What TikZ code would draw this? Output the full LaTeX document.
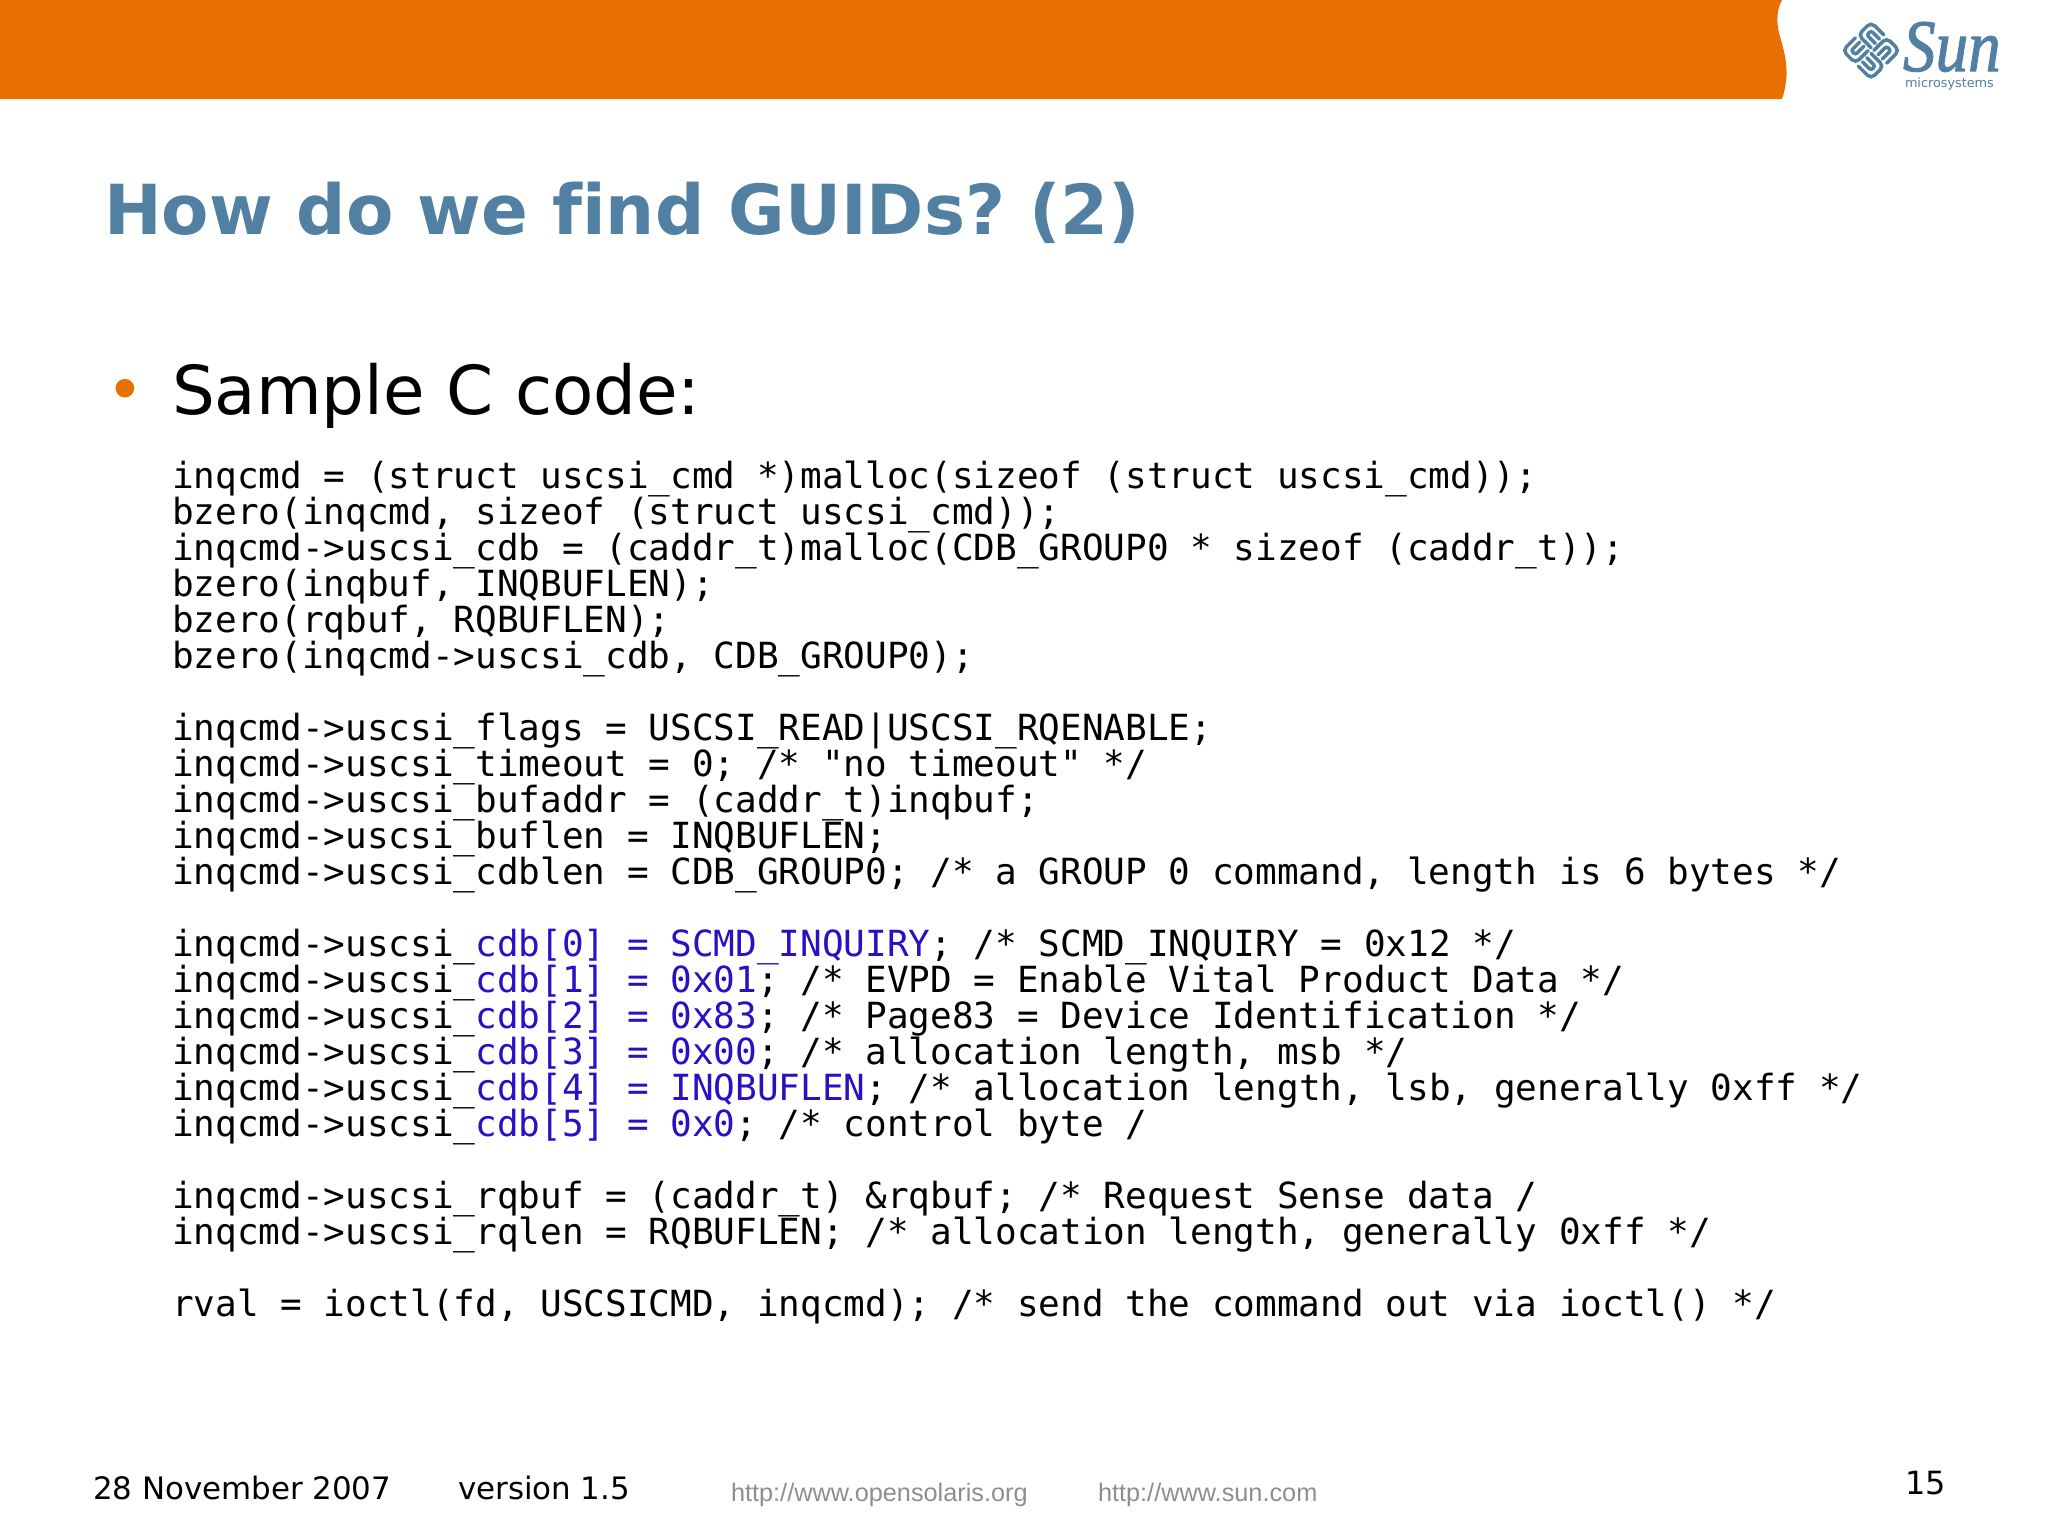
\documentclass[tikz,border=0pt]{standalone}
\usepackage{fontspec}
\setmainfont[Ligatures=NoCommon]{DejaVu Sans}
\setmonofont{DejaVu Sans Mono}
\newfontfamily\urlfont{Liberation Sans}
\newfontfamily\sunfont[ItalicFeatures={FakeBold=1.5}]{Liberation Serif}
\definecolor{sunorange}{HTML}{E86F00}
\definecolor{sunblue}{HTML}{5280A3}
\definecolor{cdbblue}{HTML}{2A0FC4}
\definecolor{urlgray}{HTML}{8E8E8E}
\newcommand{\hl}[1]{\textcolor{cdbblue}{#1}}
\tikzset{
  txt/.style={anchor=base west,inner sep=0pt,outer sep=0pt},
  code/.style={txt,font=\ttfamily\fontsize{36}{36}\selectfont},
  titletext/.style={txt,text=sunblue,font=\bfseries\fontsize{69}{69}\selectfont},
  foot/.style={txt,font=\fontsize{30.9}{31}\selectfont},
  urltext/.style={txt,text=urlgray,font=\urlfont\fontsize{25.3}{26}\selectfont},
  logostroke/.style={draw=sunblue,line width=3.5pt,line cap=round}
}
\begin{document}
\begin{tikzpicture}[x=1pt,y=-1pt]
\useasboundingbox (0,0) rectangle (2048,1535);
\fill[white] (0,0) rectangle (2048,1535);
% header band
\fill[sunorange] (0,0) -- (1782,0) .. controls (1775,12) and (1777,28) .. (1781,40)
  .. controls (1786,58) and (1790,75) .. (1782,99) -- (0,99) -- cycle;
% logo
\begin{scope}[shift={(1871,50.5)},rotate=45]
\foreach \a in {0,90,180,270}{
  \begin{scope}[rotate=\a]
  \draw[logostroke,rounded corners=5pt] (2,20) -- (20,20) -- (20,2) -- (2,2);
  \draw[logostroke,rounded corners=2.5pt] (2,14) -- (14,14) -- (14,8) -- (2,8);
  \end{scope}
}
\end{scope}
\node[txt,text=sunblue,font=\sunfont\itshape\fontsize{74}{74}\selectfont,xscale=.88] (sun) at (1903,71) {\raisebox{0pt}[\height][0pt]{Sun}};
\node[txt,text=sunblue,font=\fontsize{12.8}{13}\selectfont] (micro) at (1905,87.5) {microsystems};
% title
\node[titletext] (title) at (104,234) {How do we find GUIDs?\kern-8pt{} (2)};
% bullet
\node[txt,text=sunorange,font=\fontsize{64}{64}\selectfont] (dot) at (106,412.5) {•};
\node[txt,font=\fontsize{67.5}{68}\selectfont] (sample) at (172,414) {Sample C code:};
% code
\node[code] (c1) at (172,488) {inqcmd = (struct uscsi\_cmd *)malloc(sizeof (struct uscsi\_cmd));};
\node[code] (c2) at (172,524) {bzero(inqcmd, sizeof (struct uscsi\_cmd));};
\node[code] (c3) at (172,560) {inqcmd->uscsi\_cdb = (caddr\_t)malloc(CDB\_GROUP0 * sizeof (caddr\_t));};
\node[code] (c4) at (172,596) {bzero(inqbuf, INQBUFLEN);};
\node[code] (c5) at (172,632) {bzero(rqbuf, RQBUFLEN);};
\node[code] (c6) at (172,668) {bzero(inqcmd->uscsi\_cdb, CDB\_GROUP0);};
\node[code] (c7) at (172,740) {inqcmd->uscsi\_flags = USCSI\_READ|USCSI\_RQENABLE;};
\node[code] (c8) at (172,776) {inqcmd->uscsi\_timeout = 0; /* "no timeout" */};
\node[code] (c9) at (172,812) {inqcmd->uscsi\_bufaddr = (caddr\_t)inqbuf;};
\node[code] (c10) at (172,848) {inqcmd->uscsi\_buflen = INQBUFLEN;};
\node[code] (c11) at (172,884) {inqcmd->uscsi\_cdblen = CDB\_GROUP0; /* a GROUP 0 command, length is 6 bytes */};
\node[code] (c12) at (172,956) {inqcmd->uscsi\_\hl{cdb[0] = SCMD\_INQUIRY}; /* SCMD\_INQUIRY = 0x12 */};
\node[code] (c13) at (172,992) {inqcmd->uscsi\_\hl{cdb[1] = 0x01}; /* EVPD = Enable Vital Product Data */};
\node[code] (c14) at (172,1028) {inqcmd->uscsi\_\hl{cdb[2] = 0x83}; /* Page83 = Device Identification */};
\node[code] (c15) at (172,1064) {inqcmd->uscsi\_\hl{cdb[3] = 0x00}; /* allocation length, msb */};
\node[code] (c16) at (172,1100) {inqcmd->uscsi\_\hl{cdb[4] = INQBUFLEN}; /* allocation length, lsb, generally 0xff */};
\node[code] (c17) at (172,1136) {inqcmd->uscsi\_\hl{cdb[5] = 0x0}; /* control byte /};
\node[code] (c18) at (172,1208) {inqcmd->uscsi\_rqbuf = (caddr\_t) \&rqbuf; /* Request Sense data /};
\node[code] (c19) at (172,1244) {inqcmd->uscsi\_rqlen = RQBUFLEN; /* allocation length, generally 0xff */};
\node[code] (c20) at (172,1316) {rval = ioctl(fd, USCSICMD, inqcmd); /* send the command out via ioctl() */};
% footer
\node[foot] (date) at (93,1499) {28 November 2007};
\node[foot] (ver) at (458,1499) {version 1.5};
\node[urltext] (u1) at (731,1501) {http://www.opensolaris.org};
\node[urltext] (u2) at (1098,1501) {http://www.sun.com};
\node[txt,font=\fontsize{32}{32}\selectfont] (page) at (1905.5,1494) {15};
\end{tikzpicture}
\end{document}
